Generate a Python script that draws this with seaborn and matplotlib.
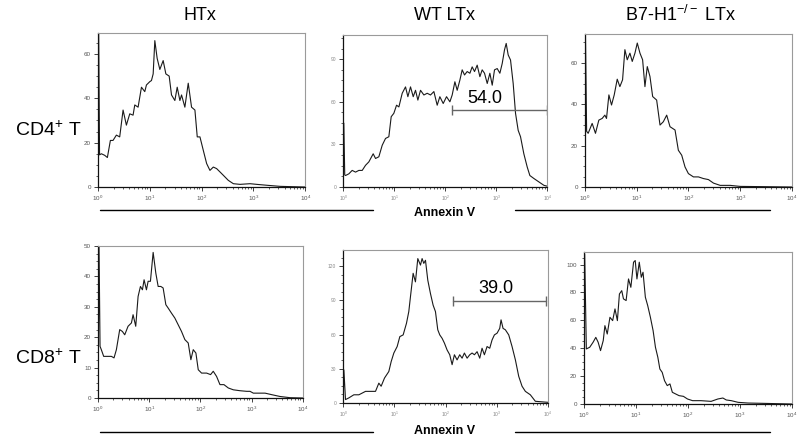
import matplotlib
matplotlib.use("Agg")
import matplotlib.pyplot as plt
from matplotlib.lines import Line2D
from matplotlib.ticker import AutoMinorLocator, MultipleLocator
import numpy as np
import seaborn as sns

# Annexin V histograms: log10 fluorescence position and event count
htx_cd4_log = [0.0, 0.013, 0.03, 0.065, 0.129, 0.181, 0.239, 0.29, 0.355, 0.419, 0.484, 0.548, 0.613,
               0.677, 0.71, 0.774, 0.839, 0.903, 0.935, 1.0, 1.032, 1.065, 1.097, 1.142, 1.194, 1.258,
               1.31, 1.374, 1.419, 1.484, 1.529, 1.581, 1.613, 1.677, 1.742, 1.806, 1.871, 1.916, 1.968,
               2.032, 2.097, 2.161, 2.226, 2.29, 2.355, 2.419, 2.516, 2.613, 2.742, 2.935, 3.065, 3.258,
               3.516, 4.0]
htx_cd4_count = [0, 69, 14.5, 15, 14.3, 13.3, 21, 21, 23.4, 22.6, 34.7, 27.9, 33, 32.4, 37, 36, 45, 43,
                 46, 47.5, 48, 51, 66, 58, 53, 57, 51, 50, 41.5, 39, 45, 39, 41.5, 36, 46.8, 36, 34.7,
                 22.6, 22.6, 16.6, 10.6, 7.5, 9, 8.3, 6.8, 5.3, 3, 1.5, 1.2, 1.5, 1.2, 0.8, 0.3, 0]

wt_cd4_log = [0.0, 0.012, 0.03, 0.046, 0.111, 0.176, 0.242, 0.307, 0.373, 0.438, 0.503, 0.588, 0.634,
              0.699, 0.765, 0.83, 0.895, 0.941, 0.993, 1.046, 1.092, 1.157, 1.222, 1.268, 1.32, 1.373,
              1.418, 1.464, 1.516, 1.582, 1.647, 1.712, 1.778, 1.843, 1.895, 1.961, 2.026, 2.092, 2.137,
              2.19, 2.235, 2.288, 2.333, 2.379, 2.431, 2.484, 2.529, 2.575, 2.627, 2.68, 2.725, 2.771,
              2.824, 2.876, 2.922, 2.967, 3.02, 3.072, 3.118, 3.163, 3.196, 3.235, 3.281, 3.333, 3.379,
              3.431, 3.477, 3.542, 3.608, 3.66, 3.739, 3.837, 3.935, 4.0]
wt_cd4_count = [0, 45, 8.5, 8.1, 9.3, 11.7, 10.5, 11.7, 11.7, 15.3, 17.7, 23.4, 20.1, 21.3, 29.4, 34.2,
                35.4, 49.5, 51.9, 57.6, 56.4, 66, 70.5, 63.6, 70.5, 63.6, 68.1, 61.2, 68.1, 64.8, 66,
                64.8, 67.2, 57.6, 63.6, 58.8, 63.6, 60, 64.8, 74.1, 68.1, 75.3, 82.5, 78.9, 81.3, 80.1,
                84.6, 81.3, 85.8, 77.7, 82.5, 80.1, 72.9, 80.1, 71.7, 82.5, 83.4, 80.1, 87, 96.6, 101.1,
                93, 89.4, 72.9, 51.9, 39.9, 35.4, 23.4, 14.1, 8.1, 6, 3.6, 1.2, 0.6]

b7_cd4_log = [0.0, 0.013, 0.035, 0.065, 0.142, 0.206, 0.271, 0.335, 0.387, 0.419, 0.465, 0.516, 0.568,
              0.626, 0.677, 0.729, 0.774, 0.819, 0.871, 0.916, 0.968, 1.013, 1.065, 1.116, 1.161, 1.206,
              1.258, 1.31, 1.387, 1.452, 1.516, 1.581, 1.645, 1.742, 1.806, 1.871, 1.935, 2.0, 2.097,
              2.194, 2.29, 2.387, 2.484, 2.613, 2.806, 3.0, 3.387, 4.0]
b7_cd4_count = [0, 73.7, 27, 26, 30.8, 26, 32.4, 33.2, 34.8, 33.2, 44.6, 39.7, 44.6, 52.2, 48.6, 51.9,
                66.5, 61.6, 64.8, 60.8, 64.8, 69.7, 64.8, 61.6, 48.6, 58.3, 53.5, 43.8, 42.1, 30, 31.6,
                34.8, 29.2, 27.6, 17.8, 15.4, 9.7, 6.5, 4.9, 4.9, 4.1, 3.6, 1.9, 0.8, 0.8, 0.3, 0.2, 0]

htx_cd8_log = [0.0, 0.02, 0.04, 0.065, 0.111, 0.196, 0.261, 0.313, 0.359, 0.424, 0.476, 0.522, 0.587,
               0.653, 0.685, 0.737, 0.783, 0.829, 0.868, 0.9, 0.946, 0.979, 1.024, 1.077, 1.129, 1.175,
               1.227, 1.272, 1.325, 1.37, 1.436, 1.501, 1.566, 1.631, 1.697, 1.762, 1.814, 1.86, 1.912,
               1.958, 2.023, 2.121, 2.199, 2.251, 2.316, 2.382, 2.46, 2.545, 2.643, 2.773, 2.904, 2.969,
               3.034, 3.165, 3.263, 3.393, 3.556, 3.752, 4.0]
htx_cd8_count = [0, 49.9, 17, 15.9, 13.7, 13.7, 13.7, 13.2, 15.9, 22.5, 21.9, 20.8, 23.6, 24.7, 27.4,
                 23.6, 33.4, 36.7, 35.6, 38.9, 35.6, 38.4, 38.4, 47.9, 41.1, 36.7, 36.7, 36.2, 30.7,
                 29.6, 27.9, 26.3, 24.1, 21.9, 19.2, 18.1, 12.6, 15.9, 14.8, 9.3, 8.2, 8.2, 7.7, 8.8,
                 7.1, 4.4, 4.4, 3.3, 2.7, 2.4, 2.2, 2.2, 1.6, 1.6, 1.6, 1.1, 0.5, 0.1, 0]

wt_cd8_log = [0.0, 0.013, 0.045, 0.111, 0.208, 0.306, 0.371, 0.436, 0.533, 0.631, 0.696, 0.741, 0.807,
              0.891, 0.937, 0.989, 1.054, 1.106, 1.171, 1.236, 1.281, 1.314, 1.366, 1.411, 1.457, 1.509,
              1.541, 1.574, 1.607, 1.652, 1.704, 1.756, 1.802, 1.847, 1.886, 1.932, 1.977, 2.029, 2.081,
              2.127, 2.172, 2.224, 2.276, 2.322, 2.367, 2.42, 2.472, 2.517, 2.563, 2.615, 2.667, 2.712,
              2.758, 2.81, 2.862, 2.907, 2.953, 3.005, 3.057, 3.083, 3.122, 3.167, 3.233, 3.298, 3.363,
              3.428, 3.493, 3.558, 3.655, 3.753, 3.915, 4.0]
wt_cd8_count = [0, 29, 3, 4.5, 7.2, 7.2, 8.7, 10.2, 10.2, 10.2, 17.4, 14.7, 21.9, 27.6, 36.3, 43.8,
                49.5, 58.2, 59.7, 69.9, 80.1, 93.3, 113.7, 106.2, 126.6, 120.9, 126.6, 122.4, 125.1,
                107.7, 96, 85.8, 80.1, 64.2, 59.7, 56.7, 52.5, 46.5, 42.3, 33.6, 42.3, 37.8, 42.3, 39.3,
                43.8, 39.3, 42.3, 43.8, 42.3, 45, 39.3, 48, 42.3, 49.5, 48, 55.2, 59.7, 61.2, 65.4, 72.9,
                65.4, 64.2, 59.7, 49.5, 37.8, 23.4, 14.7, 10.2, 7.2, 1.5, 0.9, 0.6]

b7_cd8_log = [0.0, 0.013, 0.045, 0.11, 0.175, 0.227, 0.272, 0.318, 0.37, 0.402, 0.447, 0.499, 0.551,
              0.596, 0.642, 0.681, 0.726, 0.759, 0.81, 0.856, 0.901, 0.953, 0.985, 1.018, 1.063, 1.102,
              1.135, 1.18, 1.225, 1.277, 1.329, 1.374, 1.42, 1.459, 1.504, 1.549, 1.601, 1.653, 1.699,
              1.763, 1.828, 1.912, 1.99, 2.088, 2.25, 2.444, 2.574, 2.671, 2.736, 2.833, 2.963, 3.157,
              3.416, 4.0]
b7_cd8_count = [0, 107.7, 39.5, 40.7, 44.3, 47.8, 44.3, 38.3, 45.5, 56.2, 50.2, 62.2, 59.8, 68.2, 59.8,
                78.9, 81.3, 75.4, 74.2, 89.7, 83.7, 101.7, 102.9, 89.7, 101.7, 90.9, 94.5, 76.6, 70.6,
                62.2, 52.6, 40.7, 33.5, 25.1, 22.7, 16.7, 13.2, 14.4, 8.4, 7.2, 6, 5.5, 3.6, 2.4, 2.4,
                1.9, 3.6, 4.3, 2.9, 2.4, 1.2, 0.7, 0.5, 0]

# gates on the WT LTx panels: (start log, end log, height, label, label log position)
wt_cd4_gate = (2.14, 3.99, 54, "54.0", 2.78)
wt_cd8_gate = (2.15, 3.97, 89.4, "39.0", 2.99)

col_titles = ["HTx", "WT LTx", "B7-H1$^{-/-}$ LTx"]
row_titles = ["CD4$^{+}$ T", "CD8$^{+}$ T"]


def draw_panel(ax, log_pos, counts, ymax, ystep, gate=None):
    x = np.power(10.0, np.array(log_pos))
    sns.lineplot(x=x, y=counts, ax=ax, color="#1a1a1a", linewidth=0.8,
                 estimator=None, sort=False, legend=False)
    ax.set_xscale("log")
    ax.set_xlim(1, 1e4)
    ax.set_ylim(0, ymax)
    ax.yaxis.set_major_locator(MultipleLocator(ystep))
    ax.yaxis.set_minor_locator(AutoMinorLocator(4))
    ax.set_xlabel("")
    ax.set_ylabel("")
    ax.tick_params(which="both", left=True, bottom=True, top=False, right=False, color="#222222")
    ax.tick_params(which="major", direction="out", length=3, width=0.6,
                   labelsize=4.5, labelcolor="#555555", pad=2)
    ax.tick_params(which="minor", direction="out", length=1.6, width=0.5)
    for side in ["left", "bottom"]:
        ax.spines[side].set_color("#111111")
        ax.spines[side].set_linewidth(0.9)
    for side in ["top", "right"]:
        ax.spines[side].set_visible(True)
        ax.spines[side].set_color("#9a9a9a")
        ax.spines[side].set_linewidth(0.8)
    if gate is not None:
        x0, x1, gy, label, tx = gate
        ax.plot([10 ** x0, 10 ** x1], [gy, gy], color="#666666", linewidth=1.0,
                marker="|", markersize=7, markeredgewidth=1.0)
        ax.text(10 ** tx, gy + ymax * 0.025, label, ha="center", va="bottom",
                fontsize=13, color="black")


sns.set_style("ticks")
plt.rcParams["font.family"] = ["Liberation Sans", "DejaVu Sans"]
plt.rcParams["text.color"] = "black"
plt.rcParams["mathtext.fontset"] = "custom"
plt.rcParams["mathtext.rm"] = "Liberation Sans"
plt.rcParams["mathtext.it"] = "Liberation Sans:italic"
plt.rcParams["mathtext.bf"] = "Liberation Sans:bold"

fig = plt.figure(figsize=(8, 4.38), dpi=100)
fig.patch.set_facecolor("white")

boxes = [
    [0.1225, 0.573, 0.259, 0.352],
    [0.429, 0.573, 0.255, 0.347],
    [0.731, 0.573, 0.259, 0.349],
    [0.1225, 0.0913, 0.256, 0.347],
    [0.429, 0.0799, 0.256, 0.349],
    [0.730, 0.0776, 0.260, 0.347],
]
axes = [fig.add_axes(b) for b in boxes]

draw_panel(axes[0], htx_cd4_log, htx_cd4_count, 69.5, 20)
draw_panel(axes[1], wt_cd4_log, wt_cd4_count, 107, 30, gate=wt_cd4_gate)
draw_panel(axes[2], b7_cd4_log, b7_cd4_count, 74, 20)
draw_panel(axes[3], htx_cd8_log, htx_cd8_count, 50, 10)
draw_panel(axes[4], wt_cd8_log, wt_cd8_count, 134, 30, gate=wt_cd8_gate)
draw_panel(axes[5], b7_cd8_log, b7_cd8_count, 109, 20)

for ax in (axes[1], axes[4]):
    ax.tick_params(which="major", labelsize=3.5, labelcolor="#888888")

# column and row headings
for xc, title in zip([200, 445, 680], col_titles):
    fig.text(xc / 800, 1 - 15 / 438, title, ha="center", va="center", fontsize=13, color="black")
for yc, title in zip([130, 358], row_titles):
    fig.text(48 / 800, 1 - yc / 438, title, ha="center", va="center", fontsize=14, color="black")

# shared Annexin V axis labels with rules
for yl, yt in [(210, 213), (432, 431)]:
    fig.add_artist(Line2D([100 / 800, 373 / 800], [1 - yl / 438] * 2, color="black", linewidth=1.0))
    fig.add_artist(Line2D([515 / 800, 770 / 800], [1 - yl / 438] * 2, color="black", linewidth=1.0))
    fig.text(445 / 800, 1 - yt / 438, "Annexin V", ha="center", va="center",
             fontsize=9, fontweight="bold", color="black")

fig.savefig("out.png", dpi=100, facecolor="white")
